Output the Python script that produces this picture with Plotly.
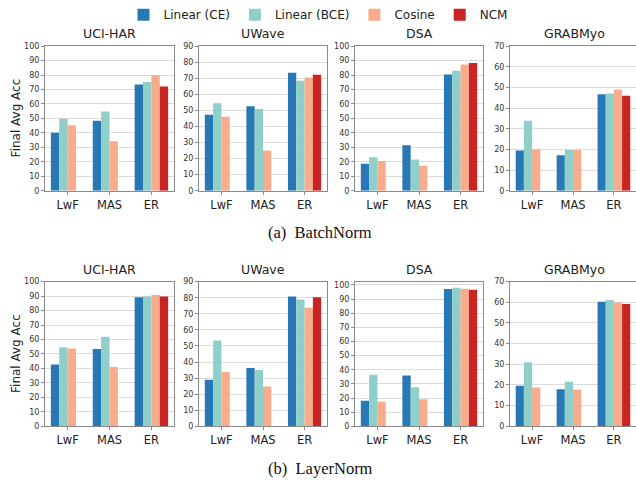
import plotly.graph_objects as go

methods = ["LwF", "MAS", "ER"]
series = ["Linear (CE)", "Linear (BCE)", "Cosine", "NCM"]
colors = ["#2878B5", "#8ECFC9", "#F8AC8C", "#C82423"]
datasets = ["UCI-HAR", "UWave", "DSA", "GRABMyo"]

# BatchNorm values: per dataset, per series, per method
bn_uci = [[40.0, 48.4, 73.4], [49.8, 54.7, 75.2], [45.3, 34.2, 80.0], [None, None, 72.0]]
bn_uwave = [[47.2, 52.5, 73.4], [54.5, 50.9, 68.4], [46.0, 25.0, 70.4], [None, None, 72.2]]
bn_dsa = [[18.7, 31.5, 80.4], [23.2, 21.6, 82.9], [20.5, 17.3, 87.2], [None, None, 88.3]]
bn_grab = [[19.5, 17.2, 46.7], [33.9, 19.7, 47.0], [19.9, 19.7, 49.0], [None, None, 46.0]]

# LayerNorm values
ln_uci = [[42.7, 53.5, 89.2], [54.6, 61.9, 89.8], [53.8, 41.0, 90.7], [None, None, 89.8]]
ln_uwave = [[29.0, 36.2, 80.7], [53.3, 35.0, 78.9], [33.7, 24.8, 73.8], [None, None, 80.3]]
ln_dsa = [[18.0, 36.0, 97.0], [36.4, 27.6, 97.9], [17.3, 19.1, 97.2], [None, None, 96.5]]
ln_grab = [[19.6, 17.9, 60.3], [31.0, 21.6, 61.1], [18.8, 17.7, 59.9], [None, None, 59.2]]

bn_ymax = [100, 90, 100, 70]
ln_ymax = [100, 90, 102.3, 70]

rows = [
    ([bn_uci, bn_uwave, bn_dsa, bn_grab], bn_ymax),
    ([ln_uci, ln_uwave, ln_dsa, ln_grab], ln_ymax),
]

W, H = 636, 487
xdom_px = [(45, 174), (199, 327), (355, 483), (510, 636)]
ydom_px = [(41, 189), (282, 430)]

fig = go.Figure()
font_fam = "DejaVu Sans"
axis_col = "#8a8a8a"

k = 0
for r, (data_row, ymaxes) in enumerate(rows):
    for c in range(4):
        k += 1
        xa = "x" if k == 1 else f"x{k}"
        ya = "y" if k == 1 else f"y{k}"
        vals = data_row[c]
        for s in range(4):
            fig.add_trace(go.Bar(
                x=methods, y=vals[s], name=series[s],
                marker=dict(color=colors[s], line=dict(width=0)),
                xaxis=xa, yaxis=ya, showlegend=(k == 1),
                legendgroup=series[s],
            ))
        x0, x1 = xdom_px[c]
        yt, yb = ydom_px[r]
        xkey = "xaxis" if k == 1 else f"xaxis{k}"
        ykey = "yaxis" if k == 1 else f"yaxis{k}"
        fig.layout[xkey] = dict(
            domain=[x0 / W, min(x1 / W, 1.0)], anchor=ya,
            range=[-0.54, 2.54], showline=True, linecolor=axis_col, linewidth=1,
            mirror=True, ticks="outside", ticklen=3, tickcolor=axis_col,
            tickfont=dict(family=font_fam, size=11.5, color="#222"),
            showgrid=False, fixedrange=True,
        )
        fig.layout[ykey] = dict(
            domain=[1 - yb / H, 1 - yt / H], anchor=xa,
            range=[0, ymaxes[c]], dtick=10, tick0=0,
            showline=True, linecolor=axis_col, linewidth=1,
            mirror=(c != 3), ticks="outside", ticklen=3, tickcolor=axis_col,
            tickfont=dict(family=font_fam, size=8, color="#333"),
            showgrid=True, gridcolor="#dcdcdc", gridwidth=1, zeroline=False,
            fixedrange=True,
        )
        fig.add_annotation(
            text=datasets[c], xref="paper", yref="paper",
            x=((x0 + (x0 + 128)) / 2) / W, y=1 - (yt - 3) / H,
            xanchor="center", yanchor="bottom", showarrow=False,
            font=dict(family=font_fam, size=12.5, color="#222"),
        )
    # y-axis title for the first column
    yt, yb = ydom_px[r]
    fig.add_annotation(
        text="Final Avg Acc", xref="paper", yref="paper",
        x=16 / W, y=1 - ((yt + yb) / 2) / H, textangle=-90,
        xanchor="center", yanchor="middle", showarrow=False,
        font=dict(family=font_fam, size=12, color="#222"),
    )

fig.add_annotation(text="(a)  BatchNorm", xref="paper", yref="paper",
                   x=320 / W, y=1 - 232 / H, xanchor="center", yanchor="middle",
                   showarrow=False, font=dict(family="Liberation Serif", size=16.5, color="#111"))
fig.add_annotation(text="(b)  LayerNorm", xref="paper", yref="paper",
                   x=320 / W, y=1 - 473 / H, xanchor="center", yanchor="middle",
                   showarrow=False, font=dict(family="Liberation Serif", size=16.5, color="#111"))

fig.update_layout(
    width=W, height=H, margin=dict(l=0, r=0, t=0, b=0),
    paper_bgcolor="white", plot_bgcolor="white",
    barmode="group", bargap=0.2, bargroupgap=0,
    legend=dict(orientation="h", x=0.5, xanchor="center", y=1 + 6 / H, yanchor="top",
                font=dict(family=font_fam, size=12, color="#222"),
                itemwidth=30, tracegroupgap=0, bgcolor="rgba(0,0,0,0)"),
    showlegend=True,
)

fig.write_html("out.html")
